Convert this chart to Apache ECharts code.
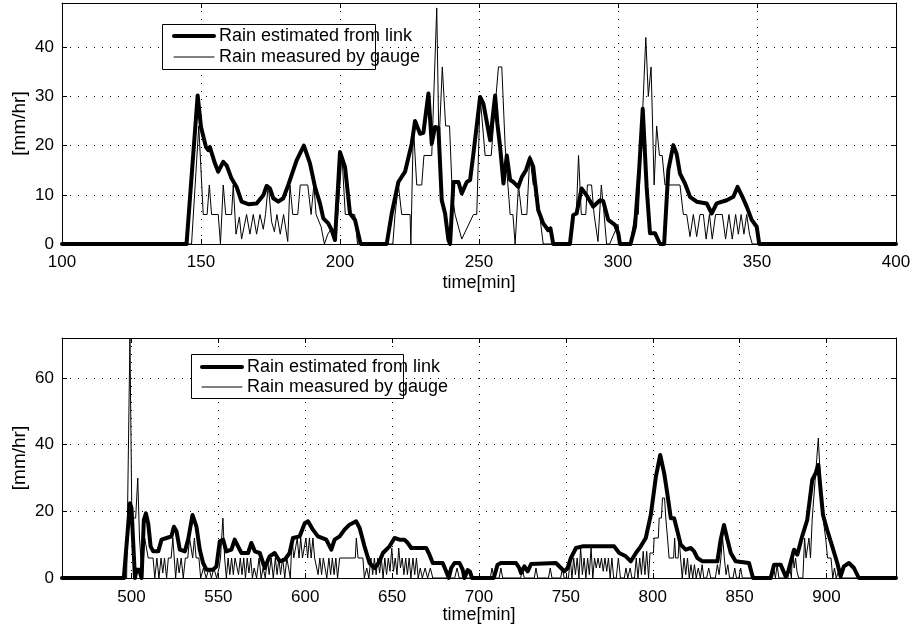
<!DOCTYPE html>
<html>
<head>
<meta charset="utf-8">
<script src="https://cdn.jsdelivr.net/npm/echarts@6/dist/echarts.min.js"></script>
<style>
  html, body { margin: 0; padding: 0; background: #fff; }
  #chart { width: 913px; height: 632px; }
</style>
</head>
<body>
<div id="chart"></div>
<script>
// Rain rate [mm/hr] against time [min]: link-based estimate and rain gauge.
const linkName = 'Rain estimated from link';
const gaugeName = 'Rain measured by gauge';

// First period (100-400 min)
const topTicks = [100, 150, 200, 250, 300, 350, 400];
const topYTicks = [0, 10, 20, 30, 40];
const topRange = [100, 400, 0, 49];

const linkTop = [
  [100,0],[144.8,0],[148.8,30.2],[150,23.8],[151.8,19.7],[152.6,19.1],[153.2,19.7],[155,16.4],
  [156.2,14.7],[158,16.7],[159.2,16],[161,13.3],[162.8,11.6],[164.6,8.6],[167,8.1],[170,8.25],
  [172.4,9.9],[173.6,11.8],[174.8,11.3],[176,9.3],[177.8,8.6],[179.6,9.3],[181.4,12],[184.4,17],
  [187,20],[189.2,16.4],[191,11.6],[192.8,8.25],[194,5.2],[195.8,4.2],[197,2.8],[198.2,0.8],
  [200,18.7],[201.8,15.7],[203.6,6.2],[205.4,4.9],[207.2,0.5],[207.6,0],[216.8,0],[218.6,6.2],
  [221,12.6],[223.4,14.7],[225.8,20.4],[227,25],[228.8,22.4],[230,22.6],[231.8,30.6],[233,20.4],
  [234.2,23.8],[235.4,23.6],[236.6,8.9],[237.8,6.2],[239,0.8],[239.6,0],[240.8,12.6],[242.6,12.6],
  [243.8,10.3],[245.6,12.6],[246.8,13],[248,18.4],[250.4,29.9],[251.6,28.5],[254,21.1],[255.8,30.2],
  [256.6,24.5],[257.6,19.7],[258.8,12.3],[260,18],[261.2,13],[262.4,12.6],[264.1,11.6],[265.4,13.6],
  [266.9,15],[268.3,17.4],[269.5,15.7],[271.3,6.9],[273.1,4.2],[274.9,2.8],[275.7,3.2],[276.7,0],
  [282.7,0],[283.9,5.9],[285.1,6.2],[286.9,11.3],[288.7,9.9],[291.1,7.6],[293.5,8.9],[294.7,8.7],
  [296.5,4.9],[298.9,3.9],[300.1,2.2],[300.7,0],[304.5,0],[306.1,3.5],[307.6,15],[308.9,27.5],
  [310.3,11.6],[311.5,2.2],[313.3,2.2],[315.1,0],[316.6,0],[318.1,15],[319.9,20.1],[321.1,18.3],
  [322.3,14.3],[324.1,12.3],[325.9,9.6],[328.3,8.6],[331.9,8.25],[333.7,6.2],[335.5,8.25],
  [339.1,8.9],[341.5,9.6],[343,11.6],[344.5,9.9],[346.3,7.6],[348.1,4.9],[349.9,3.5],[350.8,0],
  [400,0]
];

const gaugeTop = [
  [100,0],[146.6,0],[149.2,24],[150.8,6],[152.2,6],[153,12],[153.8,6],[156.2,6],[157,0],[158,12],
  [158.9,6],[161,6],[161.6,12],[162.6,2],[163.8,5.5],[164.6,1],[166.4,6],[167.6,2],[168.8,6],
  [170,2],[171.2,6],[172.4,3],[173.2,6],[174.2,12],[175.4,4.5],[176.4,2.5],[177.3,6],[178.5,2],
  [179.7,6],[181.2,0.5],[182,12],[183,6],[184.8,6],[185.7,12],[188.4,12],[189.6,6],[190.6,12],
  [191.4,6],[193.2,3.5],[194.4,0],[195.6,2],[196.8,3],[198,0.5],[199.2,6],[200.7,18],[201.9,6],
  [205.3,6],[206.3,0],[219,0],[219.8,6],[221,12],[222.2,6],[225.2,6],[225.5,0],[226.4,24],
  [227.6,12],[229.4,12],[230.2,18],[233,18],[234.8,48],[235.6,20],[236.8,36],[238,24],[239.4,24],
  [240.4,10],[241.4,6],[243.8,1],[248,6],[249.2,6],[250.4,30],[252.2,18],[254.4,18],[255.2,24],
  [257,36],[258.2,36],[259.4,20],[260.4,12],[261.2,6],[262.2,6],[263,0],[264.2,12],[265.4,6],
  [267.2,6],[268.3,18],[269.5,12],[270.7,12],[271.8,6],[273.1,0],[282.8,0],[283.6,6],[285,6],
  [285.8,18],[286.8,6],[288.4,6],[289,12],[290.5,12],[291.4,6],[292.8,0.5],[294,12],[295,6],
  [295.9,0],[297,0],[300,4],[300.8,0],[304.4,0],[306.1,6],[307.3,6],[310,42],[310.9,30],
  [311.9,36],[313,12],[313.9,24],[314.9,18],[315.9,18],[316.9,12],[322.3,12],[323.5,6],[324.7,6],
  [325.9,1.5],[327.1,6],[328.3,1.5],[329.5,6],[330.7,6],[331.7,1],[332.9,6],[333.9,1],[335.1,6],
  [337.5,6],[338.7,1],[339.9,6],[341.1,1],[342.3,6],[343.3,2],[344.3,6],[345.3,2],[346.3,6],
  [347.3,2],[348.3,0],[400,0]
];

// Second period (460-940 min)
const bottomTicks = [500, 550, 600, 650, 700, 750, 800, 850, 900];
const bottomYTicks = [0, 20, 40, 60];
const bottomRange = [460, 940, 0, 72];

const linkBottom = [
  [460,0],[495.6,0],[499.1,22.4],[500,21],[502,0],[502.9,2.5],[504.4,2.5],[505.8,0],[507.1,17.4],
  [508.3,19.4],[509.6,16.4],[511,9.5],[512.5,8],[515.4,8],[517.3,11.5],[520.2,12],[523,12.5],
  [524.4,15.4],[525.9,14],[527.8,8.5],[530.7,8],[532.6,11.5],[535.1,18.9],[537.4,15.4],[539.3,8.5],
  [541.2,4.5],[543.1,2.5],[547,2.5],[548.9,3.5],[550.8,11],[552.7,11.5],[554.6,8],[557.5,8.5],
  [559.4,11.5],[561.3,9.5],[563.3,7.5],[567.1,7.5],[569,10.5],[571,8],[573.8,7.5],[576.7,3],
  [579.5,6.5],[582.4,7.5],[585.3,5],[588.2,5.5],[591,7.5],[592.9,12],[596.8,12.5],[599.7,16.4],
  [601.6,17],[604.4,14.5],[607.3,12.5],[612.1,11.5],[615,8.5],[616.9,11.5],[619.8,12.5],
  [622.6,14.5],[625.5,16],[629.3,17],[631.3,15],[634.1,9.5],[637,4.5],[639.9,3],[642.8,5],
  [644.7,7.5],[648.5,9.5],[651.4,12],[654.3,11.5],[657.1,11.5],[659,10.5],[661,9],[669.6,9],
  [671.5,7],[673.4,4.5],[679.1,4.5],[681.1,2],[682.6,0],[684,3],[685.9,4.5],[688.8,4.5],
  [690.6,2.5],[691.6,0],[693.5,2.4],[694.8,1.9],[696,0],[708.5,0],[710.7,4],[712.6,4.5],
  [721.3,4.5],[723.2,3],[724.2,1.5],[726.1,3.5],[728,2],[730,4.2],[744.3,4.5],[747.2,3],
  [749.1,2],[751,3],[752.9,6],[755.8,9],[759.6,9.5],[777.8,9.5],[780.7,7.5],[784.5,6.5],
  [787.4,5],[790.3,7.5],[793.1,9.5],[796,12],[798.9,19],[801.8,30.4],[804.3,36.9],[806.6,31.4],
  [808.5,24.9],[810.4,17.9],[812.3,17.9],[814.2,14],[816.1,10],[819,8.5],[821.9,9],[823.8,8],
  [825.7,6],[828.6,5],[837.2,5],[839.1,11.5],[841,15.9],[843,11.5],[844.9,7.5],[847.7,5],
  [855.4,4.5],[857.7,0],[867.9,0],[869.8,4],[873.6,4],[876.5,0.5],[878,2],[881.3,8.5],[883.2,7],
  [886,12.5],[888.9,17.4],[891.8,29.4],[893.7,31.4],[895.3,33.9],[896.6,26.4],[898,18.9],
  [900.4,14.4],[903.3,9.5],[906.2,4.5],[908.1,0.5],[910,3.5],[912.9,4.5],[915.8,3],[918.6,0],
  [940,0]
];

const gaugeBottom = [
  [460,0],[497.2,0],[499.1,72],[500.2,18],[502.4,18],[503.6,30],[504.6,12],[505.6,12],[506.2,0],
  [507.6,12],[508.6,12],[509.6,6],[512.4,6],[513.4,0],[514.6,6],[515.8,0],[517,6],[518,1.5],
  [519,6],[520.2,0],[521.2,6],[522.8,6],[523.8,12],[524.6,6],[525.4,0],[526.4,6],[527.4,1.5],
  [528.6,6],[529.8,0],[531,6],[532.4,6],[533.4,12],[534.4,12],[535.2,6],[536.2,12],[537.2,6],
  [538.8,6],[539.8,0],[541.4,3],[543,0],[544.6,3],[546,0],[547.4,3],[549,0],[550.4,3],[551.2,6],
  [552.6,18],[553.6,6],[554.6,0],[555.6,6],[556.6,1],[557.6,6],[558.6,1],[559.6,6],[560.6,6],
  [561.6,1],[562.6,6],[563.6,1],[564.6,6],[565.6,0],[566.6,6],[567.6,1.5],[568.6,6],[569.6,0],
  [570.6,3],[572,0],[573.4,6],[574.6,0],[575.8,3],[577,0],[578.2,6],[579.2,1],[580.4,6],[581.6,0],
  [582.8,6],[583.8,1],[584.8,6],[585.8,1],[587,6],[588.2,0],[589.4,6],[590.4,6],[591.4,0],
  [592.4,12],[593.4,6],[594.4,6],[595.4,12],[596.4,6],[597.4,12],[598.4,6],[599.4,6],[600.4,12],
  [601.4,6],[602.4,12],[603.4,6],[604.4,12],[605.4,6],[606.4,6],[607.4,1],[608.4,6],[609.4,1],
  [610.4,6],[611.4,6],[612.4,0],[613.6,6],[614.6,1],[615.6,6],[616.6,1],[617.6,6],[618.6,0],
  [619.8,6],[628.8,6],[629.4,12],[630.4,6],[633.2,6],[634,0],[635.4,3],[636.6,0],[637.8,6],
  [638.8,1],[639.8,6],[640.8,1],[641.8,6],[642.8,1.5],[643.8,6],[644.8,0],[645.8,6],[646.8,1],
  [647.8,6],[648.8,2],[649.8,9],[650.8,2],[651.8,6],[652.8,1],[653.8,9],[654.8,3],[655.8,6],
  [656.8,1],[657.8,6],[658.8,1],[659.8,6],[660.8,0],[662,6],[663,1],[664,6],[665,0],[666.2,3],
  [667.4,0],[669,3],[670.4,0],[672,3],[673.4,0],[686,0],[687.4,3],[688.6,0],[706.5,0],[707.5,3],
  [708.5,0],[711.6,0],[712.6,3],[713.6,0],[724,0],[725,3],[726,0],[731.8,0],[732.8,3],[733.8,0],
  [740,0],[741,3],[742,0],[747,0],[748,3],[749,0],[751.5,0],[752.5,6],[753.5,0],[754.5,6],
  [755.5,1],[756.5,6],[757.5,0],[758.5,9],[759.5,1],[760.5,6],[761.5,0],[762.5,6],[763.5,1],
  [764.5,9],[765.5,0],[766.5,6],[767.5,3],[768.5,6],[769.5,3],[770.5,6],[771.5,2],[772.5,6],
  [773.5,2],[774.5,6],[775.5,0],[776.5,6],[777.5,0],[779,0],[780.2,6],[781.4,0],[783.6,0],
  [784.6,3],[785.6,0],[786,0],[787,3],[788,0],[789.5,0],[790.5,6],[791.5,0],[792.5,6],[793.5,1],
  [794.5,8],[795.5,1],[796.5,8],[797.6,0],[798.4,7.5],[800.4,7.5],[800.8,12],[803.2,12],
  [803.7,18],[805,18],[805.6,24],[806.8,24],[807.5,18],[808.5,12],[809.4,6],[812,6],[812.6,12],
  [813.2,6],[814.6,6],[815.2,12],[816,6],[817,0],[818,6],[819,1],[820,6],[821,0],[822,4],[823,0],
  [824,4],[825,0],[826.2,3],[827.4,0],[828.4,4],[829.4,0],[831,0],[832.2,3],[833.4,0],[836,0],
  [837.2,4],[838.2,1],[839.2,6],[840.2,12],[841.2,6],[842.2,1],[843.2,4],[844.2,0],[846.2,0],
  [847.2,3],[848.2,0],[849.6,0],[850.6,3],[851.6,0],[868.6,0],[869.6,3],[870.6,0],[871.6,4],
  [872.6,0],[877.8,0],[878.8,3],[879.8,0],[880.4,8],[881.4,3],[882.2,6],[883,2],[884,0],
  [886.4,0],[887.4,12],[888.2,6],[889.2,6],[889.9,12],[890.8,6],[891.8,18],[893.4,29],[895.3,42],
  [896.6,28],[898,18],[899.5,12],[900.6,6],[902.6,6],[903.6,0],[904.6,3],[905.6,0],[907.6,3],
  [908.6,0],[940,0]
];

const FONT = 'Liberation Sans, Arial, Helvetica, sans-serif';
const INK = '#000';
const LINK_WIDTH = 4;
const GAUGE_WIDTH = 1;
const gridDots = { color: INK, width: 1, type: [1, 7] };

function timeAxes(gridIndex, range, ticks, nameGap, labelMargin) {
  return [
    {
      type: 'value', gridIndex, position: 'bottom', min: range[0], max: range[1],
      name: 'time[min]', nameLocation: 'middle', nameGap, nameMoveOverlap: false,
      nameTextStyle: { color: INK, fontSize: 18, fontFamily: FONT },
      axisLine: { show: true, onZero: false, lineStyle: { color: INK, width: 1 } },
      axisTick: { show: true, inside: true, length: 5, customValues: ticks, lineStyle: { color: INK } },
      axisLabel: { customValues: ticks, color: INK, fontSize: 17, fontFamily: FONT, margin: labelMargin },
      splitLine: { show: true, lineStyle: gridDots }
    },
    {
      type: 'value', gridIndex, position: 'top', min: range[0], max: range[1],
      axisLine: { show: true, onZero: false, lineStyle: { color: INK, width: 1 } },
      axisTick: { show: true, inside: true, length: 5, customValues: ticks, lineStyle: { color: INK } },
      axisLabel: { show: false },
      splitLine: { show: false }
    }
  ];
}

function rainAxes(gridIndex, range, ticks, nameGap) {
  return [
    {
      type: 'value', gridIndex, position: 'left', min: range[2], max: range[3],
      name: '[mm/hr]', nameLocation: 'middle', nameGap, nameMoveOverlap: false,
      nameTextStyle: { color: INK, fontSize: 19, fontFamily: FONT },
      axisLine: { show: true, onZero: false, lineStyle: { color: INK, width: 1 } },
      axisTick: { show: true, inside: true, length: 5, customValues: ticks, lineStyle: { color: INK } },
      axisLabel: { customValues: ticks, color: INK, fontSize: 17, fontFamily: FONT, margin: 8 },
      splitLine: { show: true, lineStyle: gridDots }
    },
    {
      type: 'value', gridIndex, position: 'right', min: range[2], max: range[3],
      axisLine: { show: true, onZero: false, lineStyle: { color: INK, width: 1 } },
      axisTick: { show: true, inside: true, length: 5, customValues: ticks, lineStyle: { color: INK } },
      axisLabel: { show: false },
      splitLine: { show: false }
    }
  ];
}

function rainSeries(name, data, axisIndex, width) {
  return {
    type: 'line', name, data, xAxisIndex: axisIndex, yAxisIndex: axisIndex,
    symbol: 'none', showSymbol: false, smooth: false, animation: false,
    lineStyle: { color: INK, width, join: 'round', cap: 'round' },
    itemStyle: { color: INK },
    emphasis: { disabled: true }, z: width > 2 ? 3 : 2
  };
}

function legendAt(left, top, itemGap) {
  return {
    orient: 'vertical', left, top, padding: 0, itemGap,
    itemWidth: 40, itemHeight: 14, selectedMode: false,
    data: [
      { name: linkName, lineStyle: { color: INK, width: LINK_WIDTH } },
      { name: gaugeName, lineStyle: { color: INK, width: GAUGE_WIDTH } }
    ],
    itemStyle: { opacity: 0 },
    textStyle: { color: INK, fontSize: 18, fontFamily: FONT, lineHeight: 20 }
  };
}

function legendFrame(x, y, w, h) {
  return {
    type: 'rect', z: 3, silent: true,
    shape: { x: x + 0.5, y: y + 0.5, width: w, height: h },
    style: { fill: '#fff', stroke: INK, lineWidth: 1 }
  };
}

const chart = echarts.init(document.getElementById('chart'), null, { renderer: 'canvas' });
chart.setOption({
  animation: false,
  backgroundColor: '#fff',
  grid: [
    { left: 62, top: 3, width: 834, height: 241, outerBoundsMode: 'none' },
    { left: 62, top: 338, width: 834, height: 240, outerBoundsMode: 'none' }
  ],
  xAxis: [...timeAxes(0, topRange, topTicks, 30, 10), ...timeAxes(1, bottomRange, bottomTicks, 28, 11)],
  yAxis: [...rainAxes(0, topRange, topYTicks, 33), ...rainAxes(1, bottomRange, bottomYTicks, 33)],
  legend: [legendAt(172, 26, 1), legendAt(200, 357, 0)],
  graphic: [legendFrame(162, 24, 213, 45), legendFrame(191, 354, 212, 44)],
  series: [
    rainSeries(gaugeName, gaugeTop, 0, GAUGE_WIDTH),
    rainSeries(linkName, linkTop, 0, LINK_WIDTH),
    rainSeries(gaugeName, gaugeBottom, 2, GAUGE_WIDTH),
    rainSeries(linkName, linkBottom, 2, LINK_WIDTH)
  ]
});
</script>
</body>
</html>
